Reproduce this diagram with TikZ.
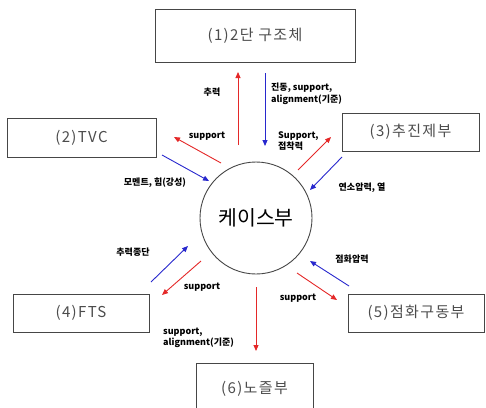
\documentclass[tikz,border=0pt]{standalone}
\usepackage{fontspec}
\setmainfont{Noto Sans CJK KR}
\newfontfamily\kr{Noto Sans CJK KR}
\newfontfamily\krsp[LetterSpace=9]{Noto Sans CJK KR}
\usetikzlibrary{arrows.meta}
\definecolor{ared}{RGB}{228,40,40}
\definecolor{ablue}{RGB}{40,40,205}
\definecolor{bord}{RGB}{70,70,70}
\tikzset{
  boxnode/.style={draw=bord,line width=0.9pt,inner sep=0pt,font=\krsp\fontsize{15}{17}\selectfont,text=black!70},
  lbl/.style={font=\kr\bfseries\fontsize{9}{11.5}\selectfont,inner sep=0pt,align=left},
  redarr/.style={draw=ared,line width=0.9pt,-{Triangle[length=6pt,width=5pt]}},
  bluearr/.style={draw=ablue,line width=0.9pt,-{Triangle[length=6pt,width=5pt]}}
}
\begin{document}
\begin{tikzpicture}[x=1pt,y=-1pt]
\useasboundingbox (0,0) rectangle (486,407);
\clip (0,0) rectangle (486,407);
% boxes
\node[boxnode,minimum width=200pt,minimum height=53pt] (b1) at (255,35.5) {(1)2단 구조체};
\node[boxnode,minimum width=149pt,minimum height=39pt] (b2) at (81.5,137.5) {(2)TVC};
\node[boxnode,minimum width=137pt,minimum height=38pt] (b3) at (410.5,132) {(3)추진제부};
\node[boxnode,minimum width=136pt,minimum height=38pt] (b4) at (81,313) {(4)FTS};
\node[boxnode,minimum width=136pt,minimum height=38pt] (b5) at (416,313) {(5)점화구동부};
\node[boxnode,minimum width=117pt,minimum height=52pt] (b6) at (254.5,389) {(6)노즐부};
% case circle
\node[circle,draw=bord,line width=0.9pt,minimum size=112pt,inner sep=0pt,font=\kr\fontsize{20.5}{22}\selectfont] (c) at (256,218) {케이스부};
% arrow end coordinates
\coordinate (r1s) at (238,145); \coordinate (r1e) at (238,72);
\coordinate (b1s) at (265,73); \coordinate (b1e) at (265,146);
\coordinate (r2s) at (221,163); \coordinate (r2e) at (174,137);
\coordinate (b2s) at (162,155); \coordinate (b2e) at (209,181);
\coordinate (r3s) at (298,170); \coordinate (r3e) at (331,137);
\coordinate (b3s) at (342,157); \coordinate (b3e) at (310,190);
\coordinate (b4s) at (151,282); \coordinate (b4e) at (188,246);
\coordinate (r4s) at (201,261); \coordinate (r4e) at (162,295);
\coordinate (b5s) at (349,286); \coordinate (b5e) at (310,261);
\coordinate (r5s) at (297,273); \coordinate (r5e) at (337,300);
\coordinate (r6s) at (256,287); \coordinate (r6e) at (256,351);
% arrows
\draw[redarr] (r1s) -- (r1e);
\draw[bluearr] (b1s) -- (b1e);
\draw[redarr] (r2s) -- (r2e);
\draw[bluearr] (b2s) -- (b2e);
\draw[redarr] (r3s) -- (r3e);
\draw[bluearr] (b3s) -- (b3e);
\draw[bluearr] (b4s) -- (b4e);
\draw[redarr] (r4s) -- (r4e);
\draw[bluearr] (b5s) -- (b5e);
\draw[redarr] (r5s) -- (r5e);
\draw[redarr] (r6s) -- (r6e);
% labels
\node[lbl] (l1) at (212,92) {추력};
\node[lbl,anchor=west] (l2) at (271,94) {진동, support,\\alignment(기준)};
\node[lbl] (l3) at (207,136) {support};
\node[lbl] (l4) at (155,183) {모멘트, 힘(강성)};
\node[lbl,anchor=west] (l5) at (278,141) {Support,\\접착력};
\node[lbl] (l6) at (362,188) {연소압력, 열};
\node[lbl] (l7) at (133,252) {추력종단};
\node[lbl] (l8) at (202,287) {support};
\node[lbl] (l9) at (352,259) {점화압력};
\node[lbl] (l10) at (298,298) {support};
\node[lbl,anchor=west] (l11) at (163,338) {support,\\alignment(기준)};
\end{tikzpicture}
\end{document}
